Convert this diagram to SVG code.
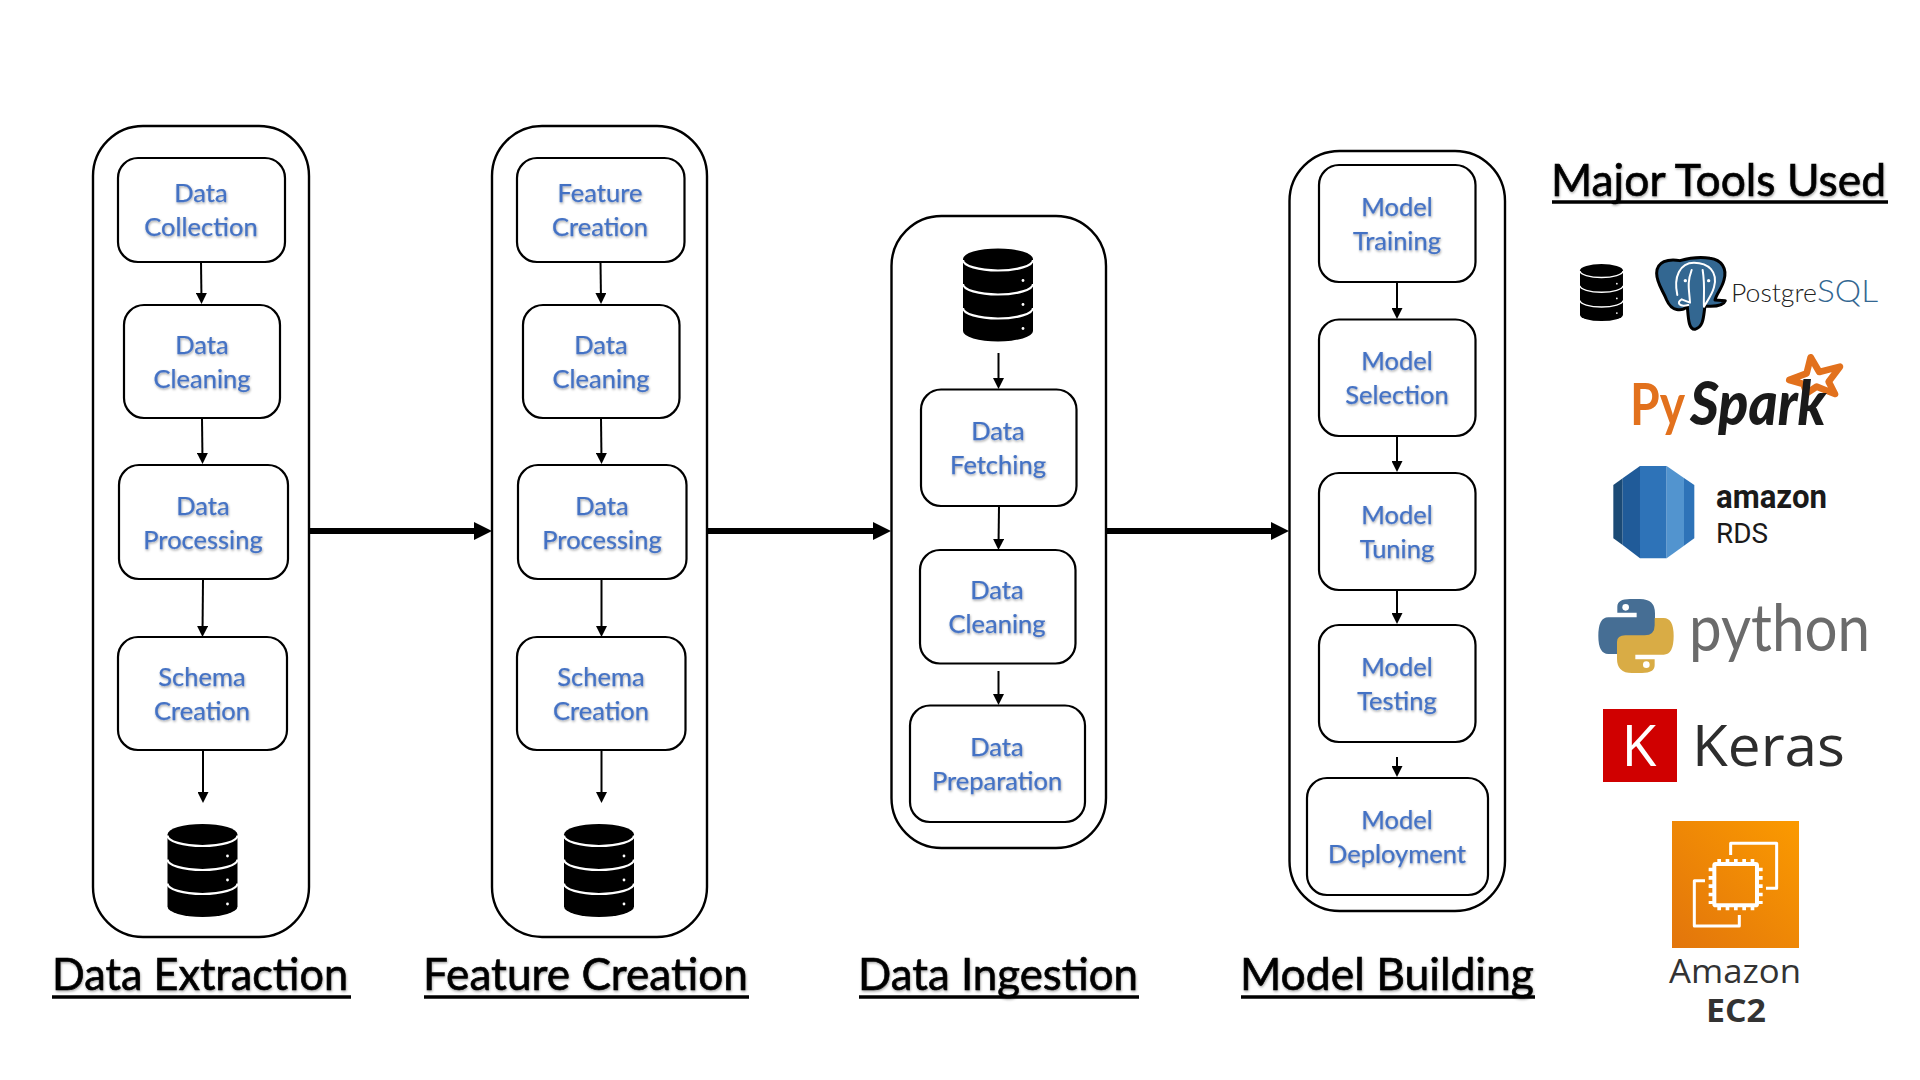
<svg xmlns="http://www.w3.org/2000/svg" width="1920" height="1080" viewBox="0 0 1920 1080">
<style>
.outer{fill:#fff;stroke:#000;stroke-width:2.4}
.node rect{fill:#fff;stroke:#000;stroke-width:2.2}
.node text{font-family:"Lato","Liberation Sans",sans-serif;font-size:25.500px;fill:#4472C4;stroke:#4472C4;stroke-width:.25;text-anchor:middle;filter:url(#soft)}
.title{font-family:"Lato","Liberation Sans",sans-serif;font-size:44px;fill:#000;stroke:#000;stroke-width:.6;filter:url(#soft)}
.ul{stroke:#000;stroke-width:3.500}
.thin{stroke:#000;stroke-width:2;fill:none;marker-end:url(#ah)}
.thick{stroke:#000;stroke-width:6;fill:none;marker-end:url(#ahb)}
</style>
<defs>
<filter id="soft" x="-10%" y="-20%" width="120%" height="150%"><feDropShadow dx="0.6" dy="1.4" stdDeviation="0.9" flood-color="#000" flood-opacity="0.35"/></filter>
<marker id="ah" markerUnits="userSpaceOnUse" markerWidth="11" markerHeight="11" refX="8" refY="5.5" orient="auto"><path d="M0 0L11 5.5L0 11Z" fill="#000"/></marker>
<marker id="ahb" markerUnits="userSpaceOnUse" markerWidth="18" markerHeight="18" refX="12" refY="9" orient="auto"><path d="M0 0L18 9L0 18Z" fill="#000"/></marker>
<g id="dbicon">
<path d="M0 10.5A35 10.5 0 0 1 70 10.5V82.5A35 10.5 0 0 1 0 82.5Z" fill="#000"/>
<path d="M0 11.5A35 10.5 0 0 0 70 11.5M0 35.5A35 10.5 0 0 0 70 35.5M0 59.5A35 10.5 0 0 0 70 59.5" fill="none" stroke="#fff" stroke-width="2.2"/>
<circle cx="60" cy="32" r="1.4" fill="#fff"/><circle cx="60" cy="56" r="1.4" fill="#fff"/><circle cx="60" cy="80" r="1.4" fill="#fff"/>
</g>
<linearGradient id="ec2g" x1="0" y1="1" x2="1" y2="0"><stop offset="0" stop-color="#E2750C"/><stop offset="1" stop-color="#FB9A00"/></linearGradient>
</defs>
<rect width="1920" height="1080" fill="#fff"/>

<g id="stage-data-extraction"><rect class="outer" x="93" y="126" width="216" height="811" rx="50"/></g>
<g id="stage-feature-creation"><rect class="outer" x="492" y="126" width="215" height="811" rx="50"/></g>
<g id="stage-data-ingestion"><rect class="outer" x="891.500" y="216" width="214.500" height="632" rx="50"/></g>
<g id="stage-model-building"><rect class="outer" x="1289.500" y="151" width="215.500" height="760" rx="50"/></g>

<g id="connectors">
<line class="thin" x1="201" y1="262" x2="201.500" y2="301"/>
<line class="thin" x1="202" y1="418" x2="202.500" y2="461"/>
<line class="thin" x1="203" y1="579" x2="202.500" y2="634"/>
<line class="thin" x1="203" y1="750" x2="203" y2="800"/>
<line class="thin" x1="600.500" y1="262" x2="601" y2="301"/>
<line class="thin" x1="601" y1="418" x2="601.500" y2="461"/>
<line class="thin" x1="601.500" y1="579" x2="601.500" y2="634"/>
<line class="thin" x1="601.500" y1="750" x2="601.500" y2="800"/>
<line class="thin" x1="998.500" y1="353" x2="998.500" y2="386"/>
<line class="thin" x1="999" y1="506" x2="998.500" y2="547"/>
<line class="thin" x1="998.500" y1="671" x2="998.500" y2="702"/>
<line class="thin" x1="1397" y1="282" x2="1397" y2="316"/>
<line class="thin" x1="1397" y1="436" x2="1397" y2="469"/>
<line class="thin" x1="1397" y1="590" x2="1397" y2="621"/>
<line class="thin" x1="1397" y1="757" x2="1397" y2="774"/>
<line class="thick" x1="309" y1="531" x2="486" y2="531"/>
<line class="thick" x1="707" y1="531" x2="885" y2="531"/>
<line class="thick" x1="1106" y1="531" x2="1283" y2="531"/>
</g>

<g class="node" id="n-data-collection"><rect x="118" y="158" width="167" height="104" rx="20"/><text x="201" y="202">Data</text><text x="201" y="236">Collection</text></g>
<g class="node" id="n-data-cleaning-1"><rect x="124" y="305" width="156" height="113" rx="20"/><text x="202" y="354">Data</text><text x="202" y="388">Cleaning</text></g>
<g class="node" id="n-data-processing-1"><rect x="119" y="465" width="169" height="114" rx="20"/><text x="203" y="515">Data</text><text x="203" y="549">Processing</text></g>
<g class="node" id="n-schema-creation-1"><rect x="118" y="637" width="169" height="113" rx="20"/><text x="202" y="686">Schema</text><text x="202" y="720">Creation</text></g>
<use id="db-1" href="#dbicon" x="167.500" y="824"/>

<g class="node" id="n-feature-creation"><rect x="517" y="158" width="167.500" height="104" rx="20"/><text x="600" y="202">Feature</text><text x="600" y="236">Creation</text></g>
<g class="node" id="n-data-cleaning-2"><rect x="523" y="305" width="156.500" height="113" rx="20"/><text x="601" y="354">Data</text><text x="601" y="388">Cleaning</text></g>
<g class="node" id="n-data-processing-2"><rect x="518" y="465" width="168.500" height="114" rx="20"/><text x="602" y="515">Data</text><text x="602" y="549">Processing</text></g>
<g class="node" id="n-schema-creation-2"><rect x="517" y="637" width="168.500" height="113" rx="20"/><text x="601" y="686">Schema</text><text x="601" y="720">Creation</text></g>
<use id="db-2" href="#dbicon" x="564" y="824"/>

<use id="db-3" href="#dbicon" x="963" y="248.500"/>
<g class="node" id="n-data-fetching"><rect x="921" y="389.500" width="155.500" height="116.500" rx="20"/><text x="998" y="440">Data</text><text x="998" y="474">Fetching</text></g>
<g class="node" id="n-data-cleaning-3"><rect x="920" y="550" width="155.500" height="113.500" rx="20"/><text x="997" y="599">Data</text><text x="997" y="633">Cleaning</text></g>
<g class="node" id="n-data-preparation"><rect x="910" y="705.500" width="175" height="116.500" rx="20"/><text x="997" y="756">Data</text><text x="997" y="790">Preparation</text></g>

<g class="node" id="n-model-training"><rect x="1319" y="165" width="156.500" height="117" rx="20"/><text x="1397" y="216">Model</text><text x="1397" y="250">Training</text></g>
<g class="node" id="n-model-selection"><rect x="1319" y="319.500" width="156.500" height="116.500" rx="20"/><text x="1397" y="370">Model</text><text x="1397" y="404">Selection</text></g>
<g class="node" id="n-model-tuning"><rect x="1319" y="473" width="156.500" height="117" rx="20"/><text x="1397" y="524">Model</text><text x="1397" y="558">Tuning</text></g>
<g class="node" id="n-model-testing"><rect x="1319" y="625" width="156.500" height="117" rx="20"/><text x="1397" y="676">Model</text><text x="1397" y="710">Testing</text></g>
<g class="node" id="n-model-deployment"><rect x="1307" y="778" width="181" height="117" rx="20"/><text x="1397" y="829">Model</text><text x="1397" y="863">Deployment</text></g>

<g id="titles">
<text class="title" x="52" y="990" textLength="296" lengthAdjust="spacingAndGlyphs">Data Extraction</text><line class="ul" x1="52" y1="997" x2="351" y2="997"/>
<text class="title" x="423" y="990" textLength="325" lengthAdjust="spacingAndGlyphs">Feature Creation</text><line class="ul" x1="424" y1="997" x2="749" y2="997"/>
<text class="title" x="858" y="990" textLength="280" lengthAdjust="spacingAndGlyphs">Data Ingestion</text><line class="ul" x1="859" y1="997" x2="1139" y2="997"/>
<text class="title" x="1240" y="990" textLength="294" lengthAdjust="spacingAndGlyphs">Model Building</text><line class="ul" x1="1241" y1="997" x2="1535" y2="997"/>
<text class="title" x="1551" y="196" textLength="335" lengthAdjust="spacingAndGlyphs">Major Tools Used</text><line class="ul" x1="1552" y1="202" x2="1888" y2="202"/>
</g>

<use id="db-small" href="#dbicon" transform="translate(1580 264) scale(0.614)"/>

<g id="tool-postgresql">
<g transform="translate(1540 130) scale(0.3333)">
<path d="M350 430C350 395 385 385 420 392C445 385 480 380 510 385C545 390 562 415 552 450C546 475 530 490 525 510L556 512C550 528 520 530 495 528C490 560 492 590 465 598C445 600 445 560 442 530C425 545 395 545 380 510C368 480 350 460 350 430Z" fill="#336791" stroke="#000" stroke-width="9" stroke-linejoin="round"/>
<path d="M412 495C400 440 420 398 462 398C505 398 535 425 522 472C516 495 502 512 492 530M445 525C418 532 408 518 425 508L450 518C448 480 440 460 455 420M492 530C490 500 496 470 488 420" fill="none" stroke="#fff" stroke-width="6" stroke-linejoin="round" stroke-linecap="round"/>
<circle cx="436" cy="452" r="5" fill="#fff"/><circle cx="506" cy="452" r="5" fill="#fff"/>
</g>
<text x="1731" y="302" font-family="Lato,sans-serif" font-weight="300" font-size="26" fill="#222" textLength="86" lengthAdjust="spacingAndGlyphs">Postgre</text>
<text x="1817" y="302" font-family="Lato,sans-serif" font-weight="300" font-size="32" fill="#336791" textLength="61" lengthAdjust="spacingAndGlyphs">SQL</text>
</g>

<g id="tool-pyspark">
<polygon transform="translate(1540 130) scale(0.3333)" points="812,682 838,726 900,710 866,755 885,792 830,770 800,790 790,762 748,750 800,730" fill="#fff" stroke="#E2711D" stroke-width="20" stroke-linejoin="round"/>
<text transform="translate(1630 425) scale(1 1.2)" font-family="Lato,sans-serif" font-weight="700" font-size="48" fill="#E2711D">Py</text>
<text x="1690" y="425" font-family="Lato,sans-serif" font-weight="900" font-style="italic" font-size="60" fill="#1a1a1a" textLength="136" lengthAdjust="spacingAndGlyphs">Spark</text>
</g>

<g id="tool-amazon-rds">
<g transform="translate(1540 450) scale(0.3333)">
<polygon points="220,105 248,85 248,285 220,265" fill="#1B4A75"/>
<polygon points="248,85 300,48 300,325 248,285" fill="#205B99"/>
<polygon points="300,48 380,48 380,325 300,325" fill="#2E73B8"/>
<polygon points="380,48 432,84 432,287 380,325" fill="#5294CF"/>
<polygon points="432,84 463,105 463,265 432,287" fill="#2E73B8"/>
</g>
<text x="1716" y="508" font-family="Roboto,sans-serif" font-weight="700" font-size="33" fill="#1a1a1a" textLength="111" lengthAdjust="spacingAndGlyphs">amazon</text>
<text x="1716" y="543" font-family="Roboto,sans-serif" font-size="28" fill="#1a1a1a" textLength="52" lengthAdjust="spacingAndGlyphs">RDS</text>
</g>

<g id="tool-python">
<g transform="translate(1540 450) scale(0.3333)">
<path d="M300 447Q345 447 345 490L345 540Q345 560 320 560L262 560Q232 560 232 590L232 612L205 612Q175 612 175 558Q175 502 205 502L290 502L290 488L232 488L232 470Q232 447 270 447Z" fill="#466E94"/>
<path d="M300 447Q345 447 345 490L345 540Q345 560 320 560L262 560Q232 560 232 590L232 612L205 612Q175 612 175 558Q175 502 205 502L290 502L290 488L232 488L232 470Q232 447 270 447Z" transform="rotate(180 288 558)" fill="#D9AC45"/>
<circle cx="257" cy="472" r="10" fill="#fff"/><circle cx="319" cy="644" r="10" fill="#fff"/>
</g>
<text x="1689" y="651" font-family="Lato,sans-serif" font-size="65" fill="#6b6b6b" textLength="181" lengthAdjust="spacingAndGlyphs">python</text>
</g>

<g id="tool-keras">
<rect x="1603" y="709" width="74" height="73" fill="#D00000"/>
<text x="1639" y="766" font-family="Open Sans,sans-serif" font-size="57" fill="#fff" text-anchor="middle">K</text>
<text x="1692" y="766" font-family="Open Sans,sans-serif" font-size="57" fill="#2d2d2d" textLength="153" lengthAdjust="spacingAndGlyphs">Keras</text>
</g>

<g id="tool-amazon-ec2">
<rect x="1672" y="821" width="127" height="127" fill="url(#ec2g)"/>
<g transform="translate(1600 780) scale(0.3333)" fill="none" stroke="#fff">
<path d="M392 225L392 190L530 190L530 325L498 325M315 302L283 302L283 438L418 438L418 405" stroke-width="9" stroke-linejoin="round"/>
<rect x="343" y="252" width="128" height="124" stroke-width="12" rx="4"/>
<path d="M352 244H465M352 384H465" stroke-width="14" stroke-dasharray="11 14"/>
<path d="M333 263V372M481 263V372" stroke-width="14" stroke-dasharray="11 14"/>
</g>
<text x="1669" y="983" font-family="Open Sans,sans-serif" font-size="32" fill="#333" textLength="132" lengthAdjust="spacingAndGlyphs">Amazon</text>
<text x="1706" y="1022" font-family="Open Sans,sans-serif" font-weight="700" font-size="32" fill="#333" textLength="60" lengthAdjust="spacingAndGlyphs">EC2</text>
</g>
</svg>
